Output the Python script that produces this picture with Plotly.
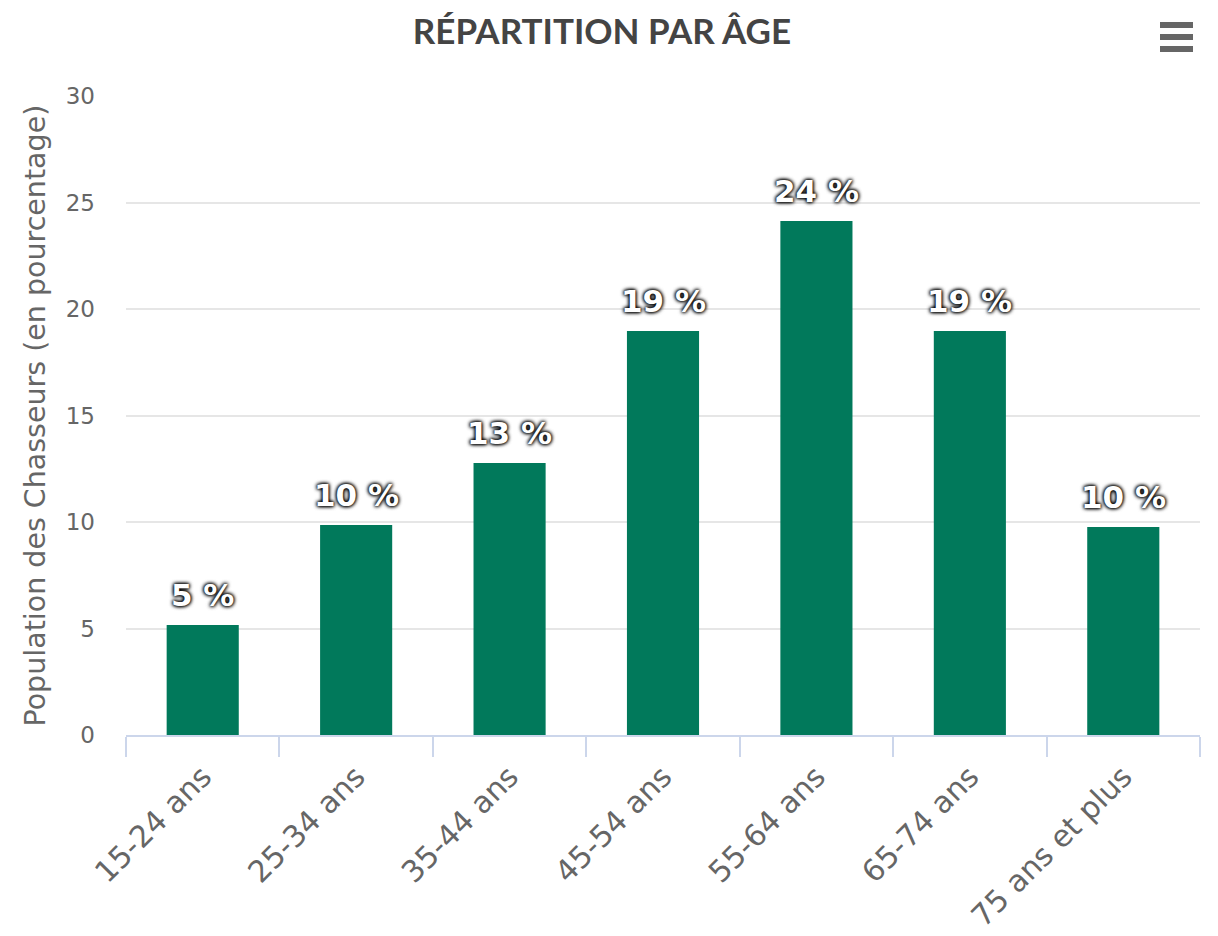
import plotly.graph_objects as go

categories = ["15-24 ans", "25-34 ans", "35-44 ans", "45-54 ans", "55-64 ans", "65-74 ans", "75 ans et plus"]
values = [5.16, 9.86, 12.77, 18.97, 24.13, 18.97, 9.77]
y_ticks = [0, 5, 10, 15, 20, 25, 30]

title_text = "RÉPARTITION PAR ÂGE"
y_title = "Population des Chasseurs (en pourcentage)"
bar_color = "#01795b"

# page has an 8px body margin: figure is drawn at (8, 8)
W, H = 1210, 928
L, R, T, B = 118, 18, 88, 201

fig = go.Figure()
fig.add_trace(go.Bar(
    x=categories, y=values,
    marker=dict(color=bar_color, line=dict(width=0)),
    width=0.47,
    hoverinfo="x+y",
))

for c, v in zip(categories, values):
    fig.add_annotation(
        x=c, y=v, xref="x", yref="y",
        text=f"{round(v)} %", showarrow=False,
        yanchor="middle", yshift=30,
        font=dict(family="DejaVu Sans", size=31, color="white", weight="bold",
                  shadow="0px 0px 4px #000, 0px 0px 4px #000, 0px 0px 3px #000"),
    )

fig.add_annotation(
    x=0, y=0.5, xref="paper", yref="paper", xanchor="center", yanchor="middle",
    xshift=-91, textangle=-90, showarrow=False, text=y_title,
    font=dict(family="DejaVu Sans", size=28.5, color="#666666"),
)

# hamburger menu icon
pw, ph = W - L - R, H - T - B
for yy in [25, 37, 49]:
    fig.add_shape(type="line", xref="paper", yref="paper",
                  x0=(1160 - 126) / pw, x1=(1193 - 126) / pw,
                  y0=(735 - yy) / ph, y1=(735 - yy) / ph,
                  line=dict(color="#666666", width=6))

fig.update_layout(
    width=W, height=H,
    margin=dict(l=L, r=R, t=T, b=B, autoexpand=False),
    paper_bgcolor="white", plot_bgcolor="white",
    title=dict(text=title_text, x=594 / W, xref="container", xanchor="center",
               y=1 - 24 / H, yref="container", yanchor="middle",
               font=dict(family="Lato", size=35, color="#444444", weight="bold")),
    showlegend=False,
    xaxis=dict(
        type="category", tickangle=-45, tickson="boundaries",
        ticks="outside", ticklen=20, tickwidth=2, tickcolor="#ccd6eb",
        showline=True, linecolor="#ccd6eb", linewidth=2,
        showgrid=False, automargin=False,
        tickfont=dict(family="DejaVu Sans", size=30, color="#666666"),
        ticklabelstandoff=10,
        range=[-0.5, 6.5],
    ),
    yaxis=dict(
        range=[0, 30], tickvals=y_ticks,
        showgrid=True, gridcolor="#e6e6e6", gridwidth=2,
        zeroline=False, showline=False, automargin=False,
        tickfont=dict(family="DejaVu Sans", size=23, color="#666666"),
        ticklabelstandoff=30,
    ),
)

fig.write_html("out.html")
